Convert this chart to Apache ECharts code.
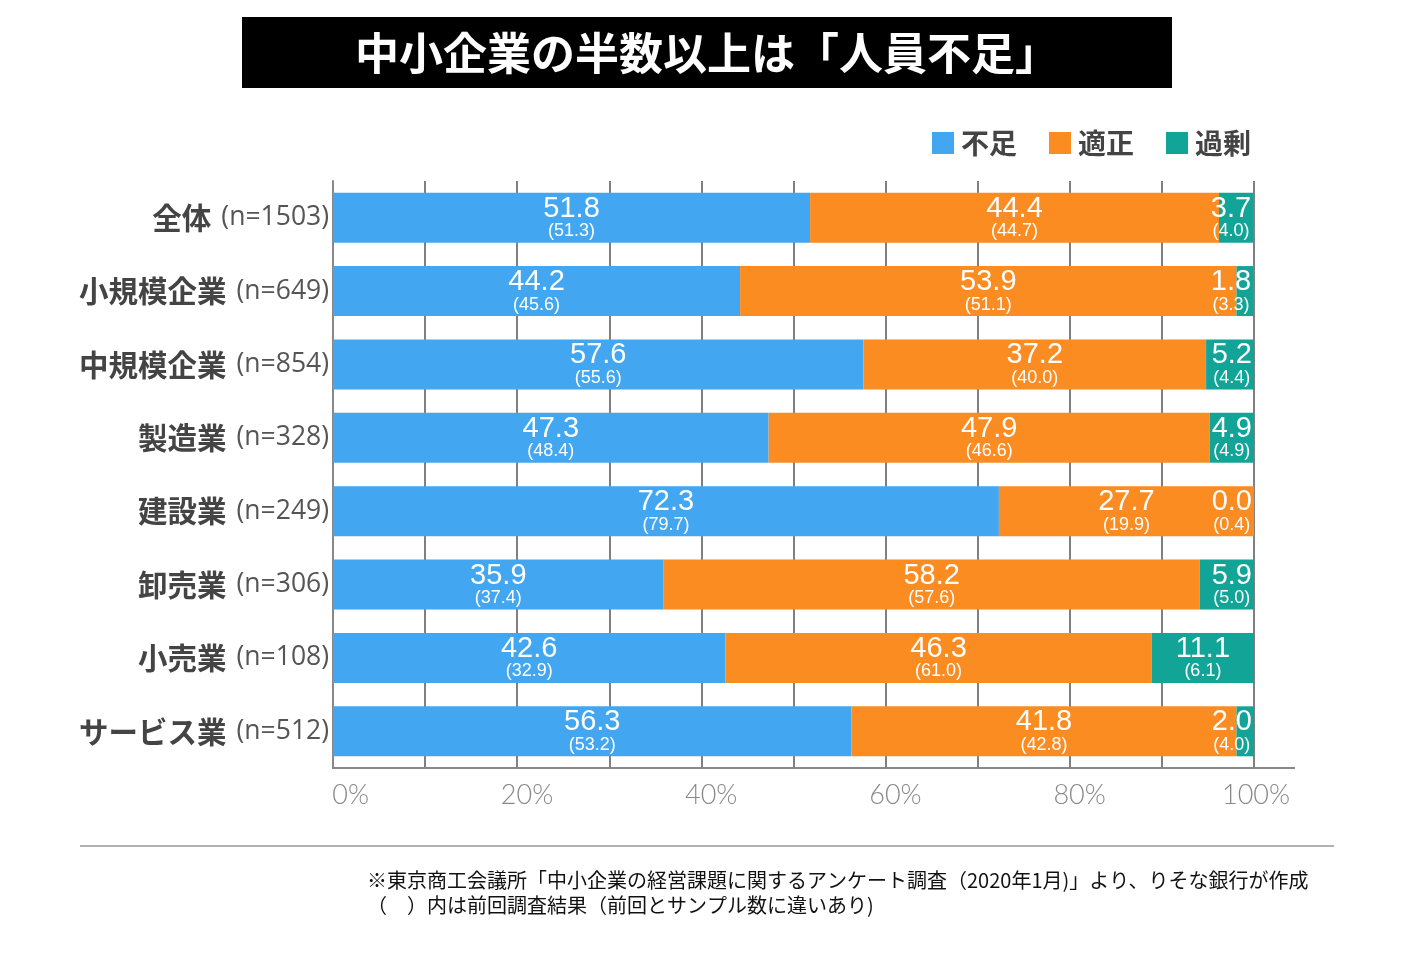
<!DOCTYPE html>
<html><head><meta charset="utf-8">
<script src="https://cdn.jsdelivr.net/npm/echarts@6/dist/echarts.min.js"></script>
<style>html,body{margin:0;padding:0;background:#fff}#c{width:1414px;height:968px}</style>
</head><body><div id="c"></div>
<script>
const categories = ['全体','小規模企業','中規模企業','製造業','建設業','卸売業','小売業','サービス業'];
const sampleN = [1503, 649, 854, 328, 249, 306, 108, 512];
const shortage = [51.8, 44.2, 57.6, 47.3, 72.3, 35.9, 42.6, 56.3];
const adequate = [44.4, 53.9, 37.2, 47.9, 27.7, 58.2, 46.3, 41.8];
const excess = [3.7, 1.8, 5.2, 4.9, 0.0, 5.9, 11.1, 2.0];
const prevShortage = [51.3, 45.6, 55.6, 48.4, 79.7, 37.4, 32.9, 53.2];
const prevAdequate = [44.7, 51.1, 40.0, 46.6, 19.9, 57.6, 61.0, 42.8];
const prevExcess = [4.0, 3.3, 4.4, 4.9, 0.4, 5.0, 6.1, 4.0];
const seriesNames = ['不足','適正','過剰'];
const xTicks = [0, 20, 40, 60, 80, 100];

const colors = ['#42A6F0', '#FA8C22', '#12A497'];
const FONT = '"Noto Sans CJK JP", "Noto Sans", sans-serif';
const NUMFONT = '"Liberation Sans", Arial, sans-serif';

const chart = echarts.init(document.getElementById('c'), null, {renderer: 'canvas'});

function makeSeries(name, vals, prev, color, idx) {
  return {
    name: name, type: 'bar', stack: 'total', barWidth: 50,
    itemStyle: {color: color},
    data: vals.map((v, i) => {
      const narrow = idx === 2 && v < 8;
      return {
        value: v,
        label: {
          show: true,
          position: narrow ? 'insideRight' : 'inside',
          distance: 2,
          formatter: () => '{a|' + v.toFixed(1) + '}\n{b|(' + prev[i].toFixed(1) + ')}',
          rich: {
            a: {fontSize: 29, color: '#fff', fontFamily: NUMFONT, lineHeight: 27, align: 'center'},
            b: {fontSize: 18, color: '#fff', fontFamily: NUMFONT, lineHeight: 18, align: 'center'}
          }
        }
      };
    })
  };
}

chart.setOption({
  animation: false,
  textStyle: {fontFamily: FONT},
  graphic: [
    {type: 'rect', shape: {x: 242, y: 17, width: 930, height: 71}, style: {fill: '#000'}},
    {type: 'text', x: 707, y: 53, style: {text: '中小企業の半数以上は「人員不足」', fill: '#fff', font: 'bold 44px "Noto Sans CJK JP"', textAlign: 'center', textVerticalAlign: 'middle'}},
    {type: 'line', shape: {x1: 1254, y1: 768, x2: 1295, y2: 768}, style: {stroke: '#888', lineWidth: 2}},
    {type: 'line', shape: {x1: 80, y1: 846, x2: 1334, y2: 846}, style: {stroke: '#999', lineWidth: 1.5}},
    {type: 'text', x: 367, y: 880, style: {text: '※東京商工会議所「中小企業の経営課題に関するアンケート調査（2020年1月)」より、りそな銀行が作成', fill: '#111', font: '20px "Noto Sans CJK JP"', textVerticalAlign: 'middle'}},
    {type: 'text', x: 367, y: 905, style: {text: '（　）内は前回調査結果（前回とサンプル数に違いあり)', fill: '#111', font: '20px "Noto Sans CJK JP"', textVerticalAlign: 'middle'}}
  ],
  legend: {
    data: seriesNames, right: 158, top: 124,
    itemWidth: 22, itemHeight: 22, itemGap: 32,
    icon: 'rect',
    textStyle: {fontSize: 28, fontWeight: 'bold', color: '#444', fontFamily: FONT, padding: [0, 0, 0, 2]}
  },
  grid: {left: 333, right: 160, top: 181, bottom: 200, containLabel: false},
  xAxis: {
    type: 'value', min: 0, max: 100, interval: 10,
    axisLine: {show: true, lineStyle: {color: '#888', width: 2}},
    axisTick: {show: false},
    splitLine: {show: true, lineStyle: {color: '#808080', width: 2}},
    axisLabel: {
      formatter: v => xTicks.includes(v) ? '{t|' + v + '%}' : '',
      margin: 14,
      rich: {
        t: {width: 72, align: 'right', fontSize: 27, color: '#888',
            fontFamily: '"Lato", "Noto Sans", sans-serif', fontWeight: 300}
      }
    }
  },
  yAxis: {
    type: 'category', data: categories, inverse: true,
    axisLine: {show: true, lineStyle: {color: '#888', width: 2}},
    axisTick: {show: false},
    axisLabel: {
      margin: 4,
      formatter: (v, i) => '{c|' + v + '}{n|(n=' + sampleN[i] + ')}',
      rich: {
        c: {fontSize: 29.5, fontWeight: 'bold', color: '#444', fontFamily: FONT, padding: [0, 10, 0, 0]},
        n: {fontSize: 26.5, color: '#555', fontFamily: '"Open Sans", "Noto Sans CJK JP", sans-serif'}
      }
    }
  },
  series: [
    makeSeries(seriesNames[0], shortage, prevShortage, colors[0], 0),
    makeSeries(seriesNames[1], adequate, prevAdequate, colors[1], 1),
    makeSeries(seriesNames[2], excess, prevExcess, colors[2], 2)
  ],
  color: colors
});
</script></body></html>
